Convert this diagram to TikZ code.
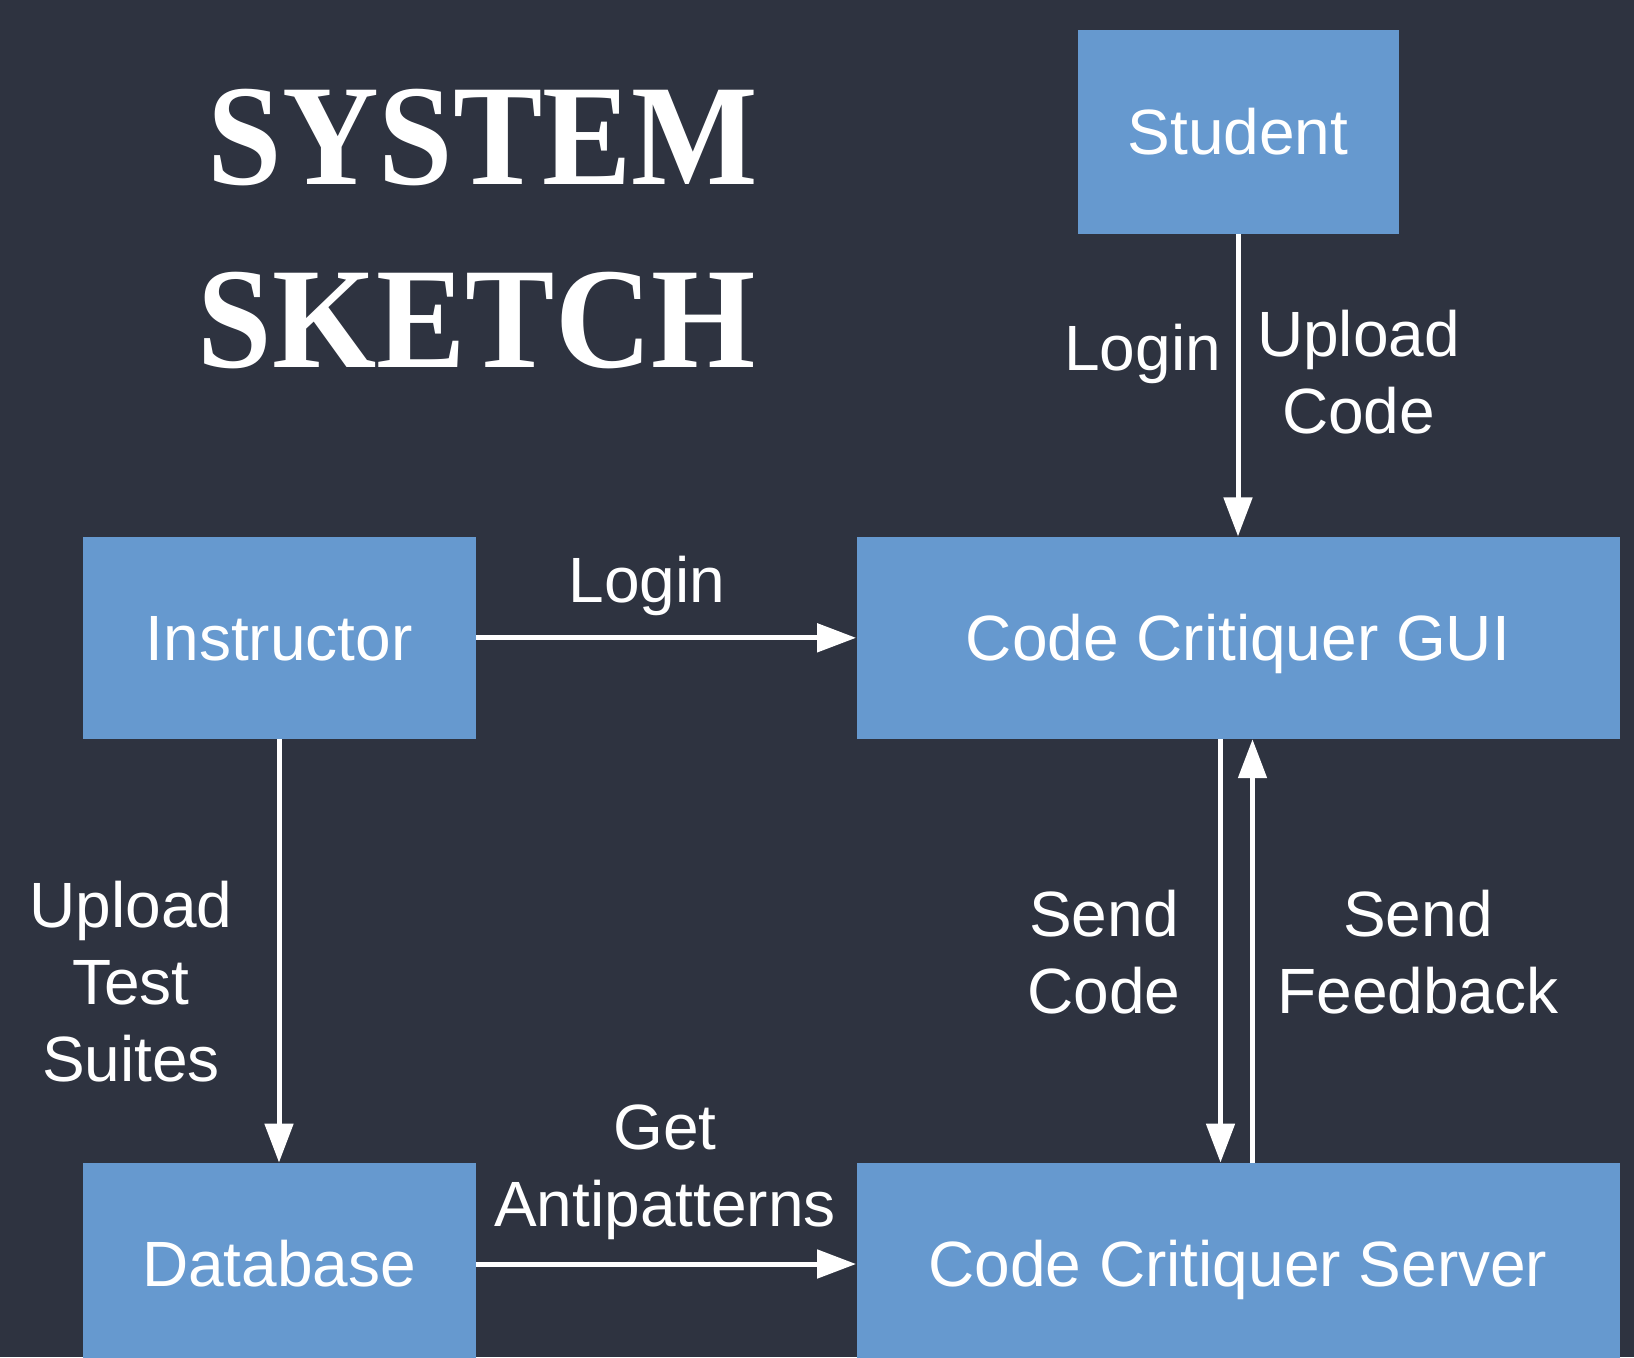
\documentclass[tikz,border=0pt]{standalone}
\usepackage{fontspec}
\setmainfont{Liberation Sans}
\newfontfamily\titlefont{Liberation Serif}
\usetikzlibrary{arrows.meta}
\definecolor{bg}{HTML}{2E3340}
\definecolor{boxc}{HTML}{6699CF}
\begin{document}
\begin{tikzpicture}[x=0.5pt,y=-0.5pt,
  box/.style={fill=boxc, text=white, font=\fontsize{32}{38.4}\selectfont, text height=22.9pt, text depth=0pt, inner sep=0pt, anchor=center},
  lbl/.style={text=white, font=\fontsize{32}{38.4}\selectfont, align=center, inner sep=0pt, anchor=base},
  ttl/.style={text=white, font=\titlefont\bfseries\fontsize{72}{80}\selectfont, inner sep=0pt, anchor=base, xscale=0.93, transform shape},
  conn/.style={draw=white, line width=2.5pt, -{Triangle[length=19.5pt,width=14pt]}}]
\clip (0,0) rectangle (1634,1357);
\fill[bg] (0,0) rectangle (1634,1357);

\node[ttl] (t1) at (483,184) {SYSTEM};
\node[ttl] (t2) at (477,367) {SKETCH};

\node[box, minimum width=160.5pt, minimum height=101.75pt] (student) at (1238,131.8) {Student};
\node[box, minimum width=381.5pt, minimum height=101pt] (gui) at (1238,637.8) {Code Critiquer GUI};
\node[box, minimum width=196.5pt, minimum height=101pt] (instr) at (279,637.8) {Instructor};
\node[box, minimum width=196.5pt, minimum height=101pt] (db) at (279,1264) {Database};
\node[box, minimum width=381.5pt, minimum height=101pt] (server) at (1238,1264) {Code Critiquer Server};

\draw[conn] (student) -- (gui);
\draw[conn] (instr) -- (gui);
\draw[conn] (instr) -- (db);
\draw[conn] (db) -- (server);
\draw[conn] ([xshift=-8.75pt]gui.south) -- ([xshift=-8.75pt]server.north);
\draw[conn] ([xshift=7.25pt]server.north) -- ([xshift=7.25pt]gui.south);

\node[lbl] (l1) at (1142.6,370) {Login};
\node[lbl] (l2) at (1358.5,433.5) {Upload\\Code};
\node[lbl] (l3) at (647,602) {Login};
\node[lbl] (l4) at (131,1081.5) {Upload\\Test\\Suites};
\node[lbl] (l5) at (1104,1013.4) {Send\\Code};
\node[lbl] (l6) at (1418,1013.4) {Send\\Feedback};
\node[lbl] (l7) at (665,1226) {Get\\Antipatterns};
\end{tikzpicture}
\end{document}
